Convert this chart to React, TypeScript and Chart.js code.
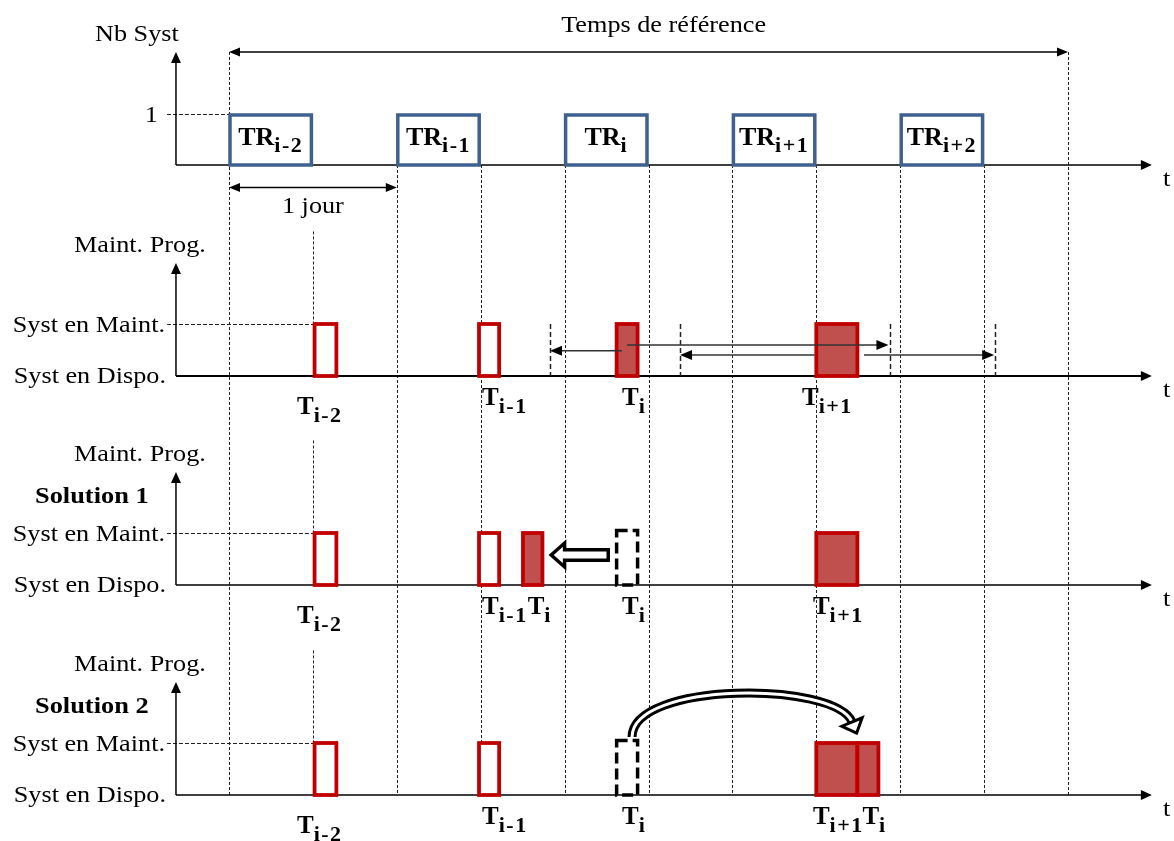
import React, { useEffect, useRef } from "react";
import { Chart, registerables } from "chart.js";

Chart.register(...registerables);

// ---------- DATA (x in days, 0 = start of TR i-2 ; y in panel levels: 0 = Syst en Dispo., 1 = Syst en Maint.) ----------
const trStarts = [0, 1, 2, 3, 4];
const trDuration = 0.5;
const trSubs = ["i-2", "i-1", "i", "i+1", "i+2"];
const referenceSpan = [0, 5];
const oneDaySpan = [0, 1];
const boundaryLines = [1, 1.5, 2, 2.5, 3, 3.5, 4, 4.5];
const brokenLine = 0.5;

const panelTitles = ["Nb Syst", "Maint. Prog.", "Maint. Prog.", "Maint. Prog."];
const solutionTitles = ["", "", "Solution 1", "Solution 2"];
const levelNames = ["Syst en Dispo.", "Syst en Maint."];

// maintenance boxes per panel: [start, end, filled]
const planBoxes: [number, number, boolean][] = [
  [0.51, 0.64, false],
  [1.49, 1.61, false],
  [2.31, 2.435, true],
  [3.5, 3.745, true],
];
const solution1Boxes: [number, number, boolean][] = [
  [0.51, 0.64, false],
  [1.49, 1.61, false],
  [1.752, 1.868, true],
  [3.5, 3.745, true],
];
const solution2Boxes: [number, number, boolean][] = [
  [0.51, 0.64, false],
  [1.49, 1.61, false],
  [3.5, 3.745, true],
  [3.745, 3.87, true],
];
const ghostBox = [2.31, 2.435];
const ghostHeight = 1.05;

// labels: [leftDay, sub, low]
const planLabels: [number, string, boolean][] = [
  [0.405, "i-2", true],
  [1.508, "i-1", false],
  [2.342, "i", false],
  [3.415, "i+1", false],
];
const solution1Labels: [number, string, boolean][] = [
  [0.405, "i-2", true],
  [1.508, "i-1", false],
  [1.78, "i", false],
  [2.342, "i", false],
  [3.48, "i+1", false],
];
const solution2Labels: [number, string, boolean][] = [
  [0.405, "i-2", true],
  [1.508, "i-1", false],
  [2.342, "i", false],
  [3.48, "i+1", false],
  [3.775, "i", false],
];

// panel 1 (plan) tolerance arrows
const windowMarks = [1.913, 2.688, 3.94, 4.565];
const shiftArrows = [
  { from: 2.342, to: 1.913, level: 0.487 },
  { from: 2.372, to: 3.93, level: 0.596 },
];
const windowArrow = { from: 2.688, to: 4.56, level: 0.404, gapFrom: 3.49, gapTo: 3.784 };

// solution 1 block arrow
const blockArrow = { tail: 2.26, headBase: 2.0, tip: 1.92, level: 0.577, shaftHalf: 0.1, headHalf: 0.23 };
// solution 2 curved arrow (cubic Bezier, day / level)
const curvePoints = [
  [2.402, 1.115],
  [2.402, 2.19],
  [3.611, 2.19],
  [3.713, 1.404],
];

// ---------- LAYOUT / STYLE ----------
const W = 1174;
const H = 841;
const ORIGIN_PX = 229;
const PX_PER_DAY = 167.8;
const PANEL_BASE_PX = [165, 376, 585, 795];
const PANEL_UNIT_PX = [51, 52, 52, 52];
const AXIS_DAY = -0.316;
const AXIS_END_DAY = 5.5;
const BLUE = "#3e6190";
const RED = "#c00000";
const RED_FILL = "#c0504d";
const SERIF = '"Liberation Serif", "Times New Roman", serif';
const NORMAL = `23px ${SERIF}`;
const NSX = 1.14;

function drawText(ctx: CanvasRenderingContext2D, s: string, x: number, y: number, font: string, align = "left", sx = 1, ls = 0) {
  ctx.save();
  ctx.font = font;
  (ctx as any).letterSpacing = ls + "px";
  const w = ctx.measureText(s).width * sx;
  const x0 = align === "center" ? x - w / 2 : align === "right" ? x - w : x;
  ctx.translate(x0, y);
  ctx.scale(sx, 1);
  ctx.fillStyle = "#000";
  ctx.textAlign = "left";
  ctx.textBaseline = "alphabetic";
  ctx.fillText(s, 0, 0);
  ctx.restore();
  return w;
}

function measure(ctx: CanvasRenderingContext2D, s: string, font: string, ls = 0) {
  ctx.save();
  ctx.font = font;
  (ctx as any).letterSpacing = ls + "px";
  const w = ctx.measureText(s).width;
  ctx.restore();
  return w;
}

function subLabel(ctx: CanvasRenderingContext2D, main: string, sub: string, x: number, y: number, align: string, subDy: number, mainSize = 25) {
  const mf = `bold ${mainSize}px ${SERIF}`;
  const sf = `bold 22px ${SERIF}`;
  const wm = measure(ctx, main, mf);
  const ws = measure(ctx, sub, sf, 1.5);
  const total = wm + ws;
  const x0 = align === "center" ? x - total / 2 : x;
  drawText(ctx, main, x0, y, mf);
  drawText(ctx, sub, x0 + wm, y + subDy, sf, "left", 1, 1.5);
}

function head(ctx: CanvasRenderingContext2D, x: number, y: number, dx: number, dy: number, len: number, half: number) {
  const bx = x - dx * len;
  const by = y - dy * len;
  ctx.beginPath();
  ctx.moveTo(x, y);
  ctx.lineTo(bx - dy * half, by + dx * half);
  ctx.lineTo(bx + dy * half, by - dx * half);
  ctx.closePath();
  ctx.fill();
}

function line(ctx: CanvasRenderingContext2D, x1: number, y1: number, x2: number, y2: number) {
  ctx.beginPath();
  ctx.moveTo(x1, y1);
  ctx.lineTo(x2, y2);
  ctx.stroke();
}

const diagramPlugin = {
  id: "diagram",
  afterDraw(chart: any) {
    const ctx: CanvasRenderingContext2D = chart.ctx;
    const xs = chart.scales.x;
    const X = (d: number) => xs.getPixelForValue(d);
    const Y = (p: number, v: number) => chart.scales["y" + p].getPixelForValue(v);
    const cx = (d: number) => Math.round(X(d)) + 0.5;
    const axisX = X(AXIS_DAY);

    ctx.save();
    ctx.fillStyle = "#fff";
    ctx.fillRect(0, 0, W, H);

    // --- dashed day lines ---
    ctx.strokeStyle = "#222";
    ctx.lineWidth = 1;
    ctx.setLineDash([3, 2]);
    const topArrowY = Y(0, 0) - 113;
    referenceSpan.forEach((d) => line(ctx, cx(d), topArrowY, cx(d), Y(3, 0)));
    boundaryLines.forEach((d) => line(ctx, cx(d), Y(0, 0), cx(d), Y(3, 0)));
    for (let p = 1; p <= 3; p++) line(ctx, cx(brokenLine), Y(p, 2.78), cx(brokenLine), Y(p, 1));

    // level dashed lines
    ctx.setLineDash([4, 2]);
    line(ctx, axisX - 9, Math.round(Y(0, 1)) + 0.5, X(0), Math.round(Y(0, 1)) + 0.5);
    for (let p = 1; p <= 3; p++) line(ctx, axisX - 9, Math.round(Y(p, 1)) + 0.5, X(planBoxes[0][0]), Math.round(Y(p, 1)) + 0.5);
    ctx.setLineDash([]);

    // --- axes ---
    ctx.strokeStyle = "#000";
    ctx.fillStyle = "#000";
    const axisWidths = [1.3, 2, 1.5, 1.5];
    for (let p = 0; p < 4; p++) {
      const by = Y(p, 0);
      ctx.lineWidth = axisWidths[p];
      line(ctx, axisX, by, X(AXIS_END_DAY) - 6, by);
      head(ctx, X(AXIS_END_DAY), by, 1, 0, 11, 5);
      ctx.lineWidth = 1.5;
      line(ctx, axisX, by, axisX, by - 103);
      head(ctx, axisX, by - 113, 0, -1, 11, 5);
      drawText(ctx, "t", X(AXIS_END_DAY) + 11, by + 21, NORMAL, "left", NSX);
      drawText(ctx, panelTitles[p], axisX - (p === 0 ? 81 : 102), by - 124, NORMAL, "left", NSX);
      if (solutionTitles[p]) drawText(ctx, solutionTitles[p], axisX - 141, by - 82, `bold 24px ${SERIF}`, "left", 1.1);
      if (p > 0) {
        drawText(ctx, levelNames[1], axisX - 11, Y(p, 1) + 7.5, NORMAL, "right", NSX);
        drawText(ctx, levelNames[0], axisX - 10, by + 6.5, NORMAL, "right", NSX);
      }
    }
    drawText(ctx, "1", axisX - 18, Y(0, 1) + 8, NORMAL, "right", NSX);

    // reference time arrow
    ctx.lineWidth = 1.3;
    const ry = topArrowY;
    line(ctx, X(referenceSpan[0]) + 8, ry, X(referenceSpan[1]) - 8, ry);
    head(ctx, X(referenceSpan[0]), ry, -1, 0, 11, 4.5);
    head(ctx, X(referenceSpan[1]), ry, 1, 0, 11, 4.5);
    drawText(ctx, "Temps de référence", X(2.59), Y(0, 0) - 133, NORMAL, "center", NSX);

    // 1 jour arrow
    const jy = Y(0, 0) + 22.5;
    line(ctx, X(oneDaySpan[0]) + 8, jy, X(oneDaySpan[1]) - 8, jy);
    head(ctx, X(oneDaySpan[0]), jy, -1, 0, 11, 4.5);
    head(ctx, X(oneDaySpan[1]), jy, 1, 0, 11, 4.5);
    drawText(ctx, "1 jour", X(0.5), Y(0, 0) + 48, NORMAL, "center", NSX);

    // --- TR boxes ---
    ctx.lineWidth = 3.5;
    ctx.strokeStyle = BLUE;
    trStarts.forEach((s, i) => {
      const x1 = X(s) + 1;
      const x2 = X(s + trDuration) - 1.5;
      const y1 = Y(0, 1) + 1;
      const y2 = Y(0, 0);
      ctx.fillStyle = "#fff";
      ctx.fillRect(x1, y1, x2 - x1, y2 - y1);
      ctx.strokeRect(x1, y1, x2 - x1, y2 - y1);
      ctx.fillStyle = "#000";
      subLabel(ctx, "TR", trSubs[i], (x1 + x2) / 2, Y(0, 0) - 20, "center", 7, 26);
    });

    // --- maintenance boxes ---
    const drawBoxes = (p: number, boxes: [number, number, boolean][]) => {
      boxes.forEach(([a, b, filled]) => {
        const x1 = X(a);
        const x2 = X(b);
        const y1 = Y(p, 1);
        const y2 = Y(p, 0);
        ctx.fillStyle = filled ? RED_FILL : "#fff";
        ctx.fillRect(x1, y1, x2 - x1, y2 - y1);
        ctx.lineWidth = 3.8;
        ctx.strokeStyle = RED;
        ctx.strokeRect(x1, y1, x2 - x1, y2 - y1);
      });
    };
    drawBoxes(1, planBoxes);
    drawBoxes(2, solution1Boxes);
    drawBoxes(3, solution2Boxes);

    // ghost boxes
    for (const p of [2, 3]) {
      const x1 = X(ghostBox[0]);
      const x2 = X(ghostBox[1]);
      const y1 = Y(p, ghostHeight);
      const y2 = Y(p, 0);
      ctx.lineWidth = 3.5;
      ctx.strokeStyle = "#000";
      ctx.setLineDash([11, 5]);
      ctx.strokeRect(x1, y1, x2 - x1, y2 - y1);
      ctx.setLineDash([]);
    }

    // labels
    const drawLabels = (p: number, labels: [number, string, boolean][]) => {
      ctx.fillStyle = "#000";
      labels.forEach(([d, sub, low]) => subLabel(ctx, "T", sub, X(d), Y(p, 0) + (low ? 38 : 29), "left", 8));
    };
    drawLabels(1, planLabels);
    drawLabels(2, solution1Labels);
    drawLabels(3, solution2Labels);

    // --- plan panel tolerance arrows ---
    ctx.strokeStyle = "#222";
    ctx.lineWidth = 1.5;
    ctx.setLineDash([5, 3]);
    windowMarks.forEach((d) => line(ctx, cx(d), Y(1, 1), cx(d), Y(1, 0)));
    ctx.setLineDash([]);
    ctx.fillStyle = "#000";
    ctx.strokeStyle = "#333";
    shiftArrows.forEach((a) => {
      const y = Y(1, a.level);
      const dir = a.to > a.from ? 1 : -1;
      line(ctx, X(a.from), y, X(a.to) - dir * 8, y);
      head(ctx, X(a.to), y, dir, 0, 12, 5);
    });
    {
      const y = Y(1, windowArrow.level);
      line(ctx, X(windowArrow.from) + 8, y, X(windowArrow.gapFrom), y);
      line(ctx, X(windowArrow.gapTo), y, X(windowArrow.to) - 8, y);
      head(ctx, X(windowArrow.from), y, -1, 0, 12, 5);
      head(ctx, X(windowArrow.to), y, 1, 0, 12, 5);
    }

    // --- solution 1 block arrow ---
    {
      const p = 2;
      const yc = Y(p, blockArrow.level);
      const sh = Y(p, 0) - Y(p, blockArrow.shaftHalf);
      const hh = Y(p, 0) - Y(p, blockArrow.headHalf);
      ctx.beginPath();
      ctx.moveTo(X(blockArrow.tip), yc);
      ctx.lineTo(X(blockArrow.headBase), yc - hh);
      ctx.lineTo(X(blockArrow.headBase), yc - sh);
      ctx.lineTo(X(blockArrow.tail), yc - sh);
      ctx.lineTo(X(blockArrow.tail), yc + sh);
      ctx.lineTo(X(blockArrow.headBase), yc + sh);
      ctx.lineTo(X(blockArrow.headBase), yc + hh);
      ctx.closePath();
      ctx.fillStyle = "#fff";
      ctx.fill();
      ctx.lineWidth = 3.5;
      ctx.strokeStyle = "#000";
      ctx.lineJoin = "miter";
      ctx.stroke();
    }

    // --- solution 2 curved arrow ---
    {
      const p = 3;
      const pts = curvePoints.map(([d, v]) => [X(d), Y(p, v)]);
      const path = () => {
        ctx.beginPath();
        ctx.moveTo(pts[0][0], pts[0][1]);
        ctx.bezierCurveTo(pts[1][0], pts[1][1], pts[2][0], pts[2][1], pts[3][0], pts[3][1]);
      };
      ctx.lineCap = "butt";
      path();
      ctx.strokeStyle = "#000";
      ctx.lineWidth = 9;
      ctx.stroke();
      path();
      ctx.strokeStyle = "#fff";
      ctx.lineWidth = 3;
      ctx.stroke();
      const dx0 = pts[3][0] - pts[2][0];
      const dy0 = pts[3][1] - pts[2][1];
      const L = Math.hypot(dx0, dy0);
      const dx = dx0 / L;
      const dy = dy0 / L;
      const tipX = pts[3][0] + dx * 12;
      const tipY = pts[3][1] + dy * 12;
      const bx = pts[3][0];
      const by = pts[3][1];
      ctx.beginPath();
      ctx.moveTo(tipX, tipY);
      ctx.lineTo(bx - dy * 11, by + dx * 11);
      ctx.lineTo(bx + dy * 11, by - dx * 11);
      ctx.closePath();
      ctx.fillStyle = "#fff";
      ctx.fill();
      ctx.lineWidth = 3;
      ctx.strokeStyle = "#000";
      ctx.stroke();
    }

    ctx.restore();
  },
};

function panelScale(p: number) {
  const base = PANEL_BASE_PX[p];
  const unit = PANEL_UNIT_PX[p];
  return { type: "linear", axis: "y", display: false, min: -(H - base) / unit, max: base / unit };
}

export default function App() {
  const ref = useRef<HTMLCanvasElement | null>(null);
  useEffect(() => {
    if (!ref.current) return;
    const xMin = -ORIGIN_PX / PX_PER_DAY;
    const chart = new Chart(ref.current, {
      type: "scatter",
      data: { datasets: [] },
      options: {
        animation: false,
        responsive: false,
        devicePixelRatio: 1,
        events: [],
        layout: { padding: 0 },
        plugins: { legend: { display: false }, tooltip: { enabled: false } },
        scales: {
          x: { type: "linear", display: false, min: xMin, max: xMin + W / PX_PER_DAY },
          y: { type: "linear", display: false, min: 0, max: 1 },
          y0: panelScale(0),
          y1: panelScale(1),
          y2: panelScale(2),
          y3: panelScale(3),
        } as any,
      },
      plugins: [diagramPlugin],
    } as any);
    return () => chart.destroy();
  }, []);
  return (
    <div style={{ position: "fixed", left: 0, top: 0, width: W, height: H, background: "#fff" }}>
      <canvas ref={ref} width={W} height={H} style={{ display: "block", width: W, height: H }} />
    </div>
  );
}
